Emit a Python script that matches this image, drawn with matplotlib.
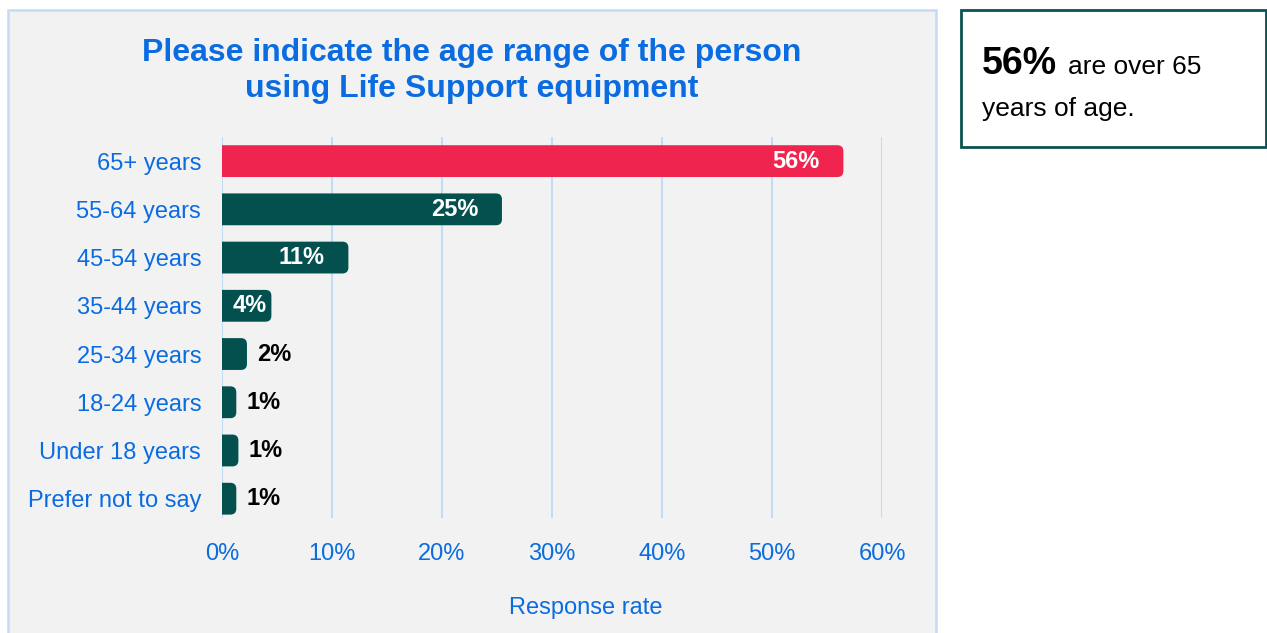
import matplotlib
matplotlib.use('Agg')
import matplotlib.pyplot as plt
from matplotlib.patches import FancyBboxPatch, Rectangle

categories = ['65+ years', '55-64 years', '45-54 years', '35-44 years',
              '25-34 years', '18-24 years', 'Under 18 years', 'Prefer not to say']
shares = [56.49, 25.45, 11.49, 4.49, 2.27, 1.3, 1.49, 1.3]
bar_colors = ['#f0254f'] + ['#03504f'] * 7
xticks = [0, 10, 20, 30, 40, 50, 60]

blue = '#0a6ce0'
grid_blue = '#c4dbf6'
plt.rcParams['font.family'] = ['Liberation Sans', 'DejaVu Sans']

W, H = 1267, 633
fig = plt.figure(figsize=(W / 100, H / 100), dpi=100)

# grey panel behind the chart
fig.patches.append(Rectangle((8 / W, -0.02), 928 / W, 1 - 10 / H + 0.02,
                             transform=fig.transFigure, facecolor='#f2f2f2',
                             edgecolor=grid_blue, lw=1.8, zorder=-2))

ax = fig.add_axes([222 / W, 1 - 518 / H, 660 / W, 381 / H])
ax.set_facecolor('none')
ax.set_xlim(0, 60)
ax.set_ylim(len(categories) - 0.6, -0.5)

# bars: rounded box starting left of zero, the axes clip squares the left end
h = 0.66
rx = 0.55                       # corner radius in x units
asp = (6 / 48.3) / rx           # keeps corners circular on screen
for i, (v, c) in enumerate(zip(shares, bar_colors)):
    ax.add_patch(FancyBboxPatch((-rx, i - h / 2), v + rx, h,
                                boxstyle=f'round,pad=0,rounding_size={rx}',
                                mutation_aspect=asp, fc=c, ec='none', zorder=3))

    lab = f'{v:.0f}%'
    if v >= 10:
        ax.annotate(lab, (v, i), xytext=(-17, 0), textcoords='offset points',
                    ha='right', va='center', color='white', fontsize=17,
                    fontweight='bold', zorder=4)
    elif v >= 4:
        ax.annotate(lab, (v, i), xytext=(-3, 0), textcoords='offset points',
                    ha='right', va='center', color='white', fontsize=17,
                    fontweight='bold', zorder=4)
    else:
        ax.annotate(lab, (v, i), xytext=(7, 0), textcoords='offset points',
                    ha='left', va='center', color='black', fontsize=17,
                    fontweight='bold', zorder=4)

ax.set_yticks(range(len(categories)))
ax.set_yticklabels(categories)
ax.set_xticks(xticks)
ax.set_xticklabels([f'{t}%' for t in xticks])
ax.tick_params(axis='y', length=0, pad=15, labelsize=17, labelcolor=blue)
ax.tick_params(axis='x', length=0, pad=18, labelsize=17, labelcolor=blue)
ax.xaxis.grid(True, color=grid_blue, lw=1.5, zorder=1)
ax.set_axisbelow(True)
for s in ax.spines.values():
    s.set_visible(False)

fig.text(472 / W, 1 - 71 / H,
         'Please indicate the age range of the person\nusing Life Support equipment',
         ha='center', va='center', fontsize=23, fontweight='bold', color=blue,
         linespacing=1.27)
fig.text(586 / W, 1 - 608 / H, 'Response rate', ha='center', va='center',
         fontsize=17, color=blue)

# callout box on the right
fig.patches.append(Rectangle((961 / W, 1 - 147 / H), 305 / W, 137 / H,
                             transform=fig.transFigure, facecolor='white',
                             edgecolor='#0b5352', lw=2, zorder=-2))
fig.text(982 / W, 1 - 74 / H, '56%', ha='left', va='baseline', fontsize=27,
         fontweight='bold', color='black')
fig.text(1068 / W, 1 - 74 / H, 'are over 65', ha='left', va='baseline',
         fontsize=19, color='black')
fig.text(982 / W, 1 - 116 / H, 'years of age.', ha='left', va='baseline',
         fontsize=19, color='black')

fig.savefig('out.png', dpi=100)
